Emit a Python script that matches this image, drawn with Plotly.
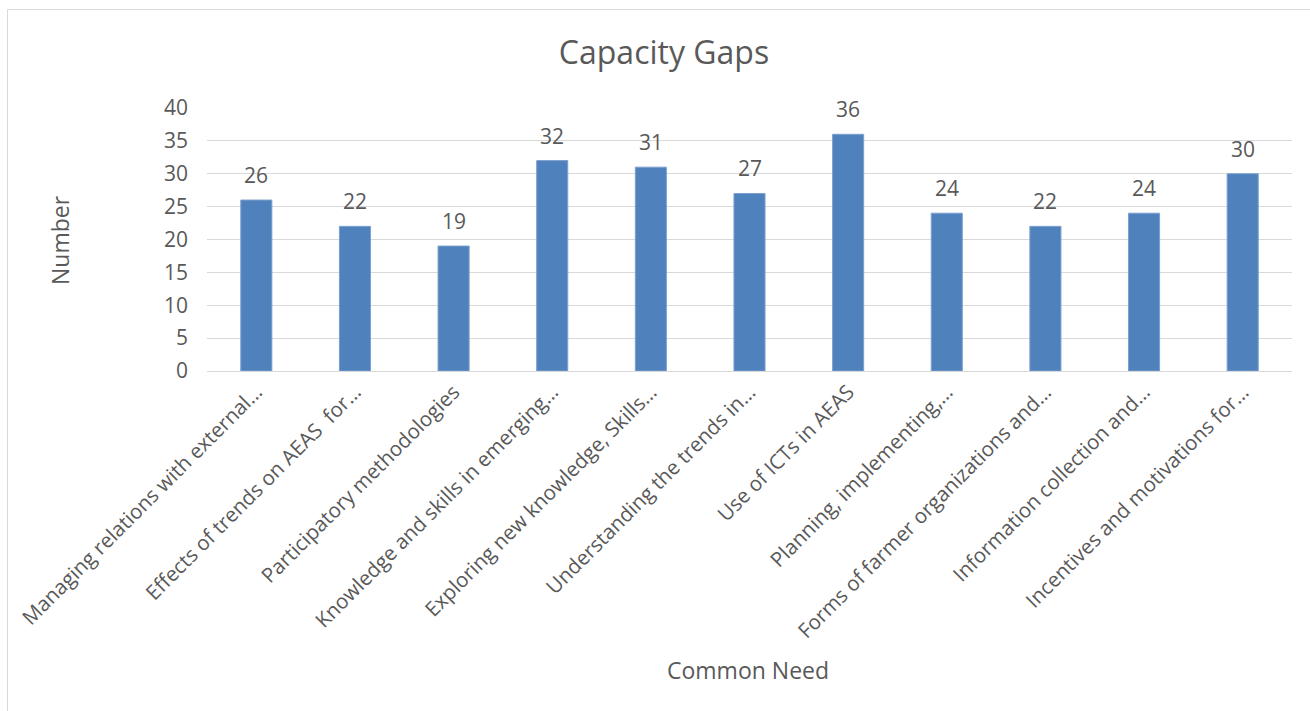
import plotly.graph_objects as go

categories = [
    "Managing relations with external…",
    "Effects of trends on AEAS  for…",
    "Participatory methodologies",
    "Knowledge and skills in emerging…",
    "Exploring new knowledge, Skills…",
    "Understanding the trends in…",
    "Use of ICTs in AEAS",
    "Planning, implementing,…",
    "Forms of farmer organizations and…",
    "Information collection and…",
    "Incentives and motivations for…",
]
values = [26, 22, 19, 32, 31, 27, 36, 24, 22, 24, 30]
y_ticks = [0, 5, 10, 15, 20, 25, 30, 35, 40]

FONT = "Open Sans"
TXT = "#595959"

W, H = 1310, 711
L, R, T, B = 207, 18, 108, 340
pw, ph = W - L - R, H - T - B

def px(x):
    return (x - L) / pw

def py(y):
    return (H - B - y) / ph

fig = go.Figure()
fig.add_trace(go.Bar(
    x=categories, y=values,
    marker=dict(color="#4F81BD", line=dict(color="#7BA0CD", width=1)),
    width=0.315,
    hoverinfo="x+y",
))

annotations = []
for c, v in zip(categories, values):
    annotations.append(dict(
        x=c, y=v, xref="x", yref="y", text=str(v), showarrow=False,
        yanchor="bottom", yshift=9, font=dict(family=FONT, size=21, color=TXT),
    ))
annotations.append(dict(
    x=px(60), y=py(240), xref="paper", yref="paper", text="Number",
    xanchor="center", yanchor="middle",
    showarrow=False, textangle=-90, font=dict(family=FONT, size=23, color=TXT),
))
annotations.append(dict(
    x=px(748), y=py(670), xref="paper", yref="paper", text="Common Need",
    xanchor="center", yanchor="middle",
    showarrow=False, font=dict(family=FONT, size=23, color=TXT),
))

fig.update_layout(
    width=W, height=H,
    margin=dict(l=L, r=R, t=T, b=B),
    paper_bgcolor="white", plot_bgcolor="white",
    showlegend=False,
    title=dict(text="Capacity Gaps", x=664 / W, xanchor="center",
               y=1 - 53 / H, yanchor="middle",
               font=dict(family=FONT, size=32, color=TXT)),
    annotations=annotations,
    shapes=[dict(type="rect", xref="paper", yref="paper",
                 x0=px(7.5), x1=px(1320), y0=py(730), y1=py(9.5),
                 line=dict(color="#D9D9D9", width=1), layer="below")],
    xaxis=dict(
        tickangle=-45, tickfont=dict(family=FONT, size=20.5, color=TXT),
        showgrid=False, showline=True, linecolor="#D9D9D9", linewidth=1,
        ticks="", fixedrange=True,
    ),
    yaxis=dict(
        range=[0, 40], tickvals=y_ticks,
        tickfont=dict(family=FONT, size=21, color=TXT),
        showgrid=True, gridcolor="#D9D9D9", gridwidth=1,
        zeroline=False, showline=False, ticklabelstandoff=18, fixedrange=True,
    ),
    bargap=0.685,
)

fig.write_html("out.html")
